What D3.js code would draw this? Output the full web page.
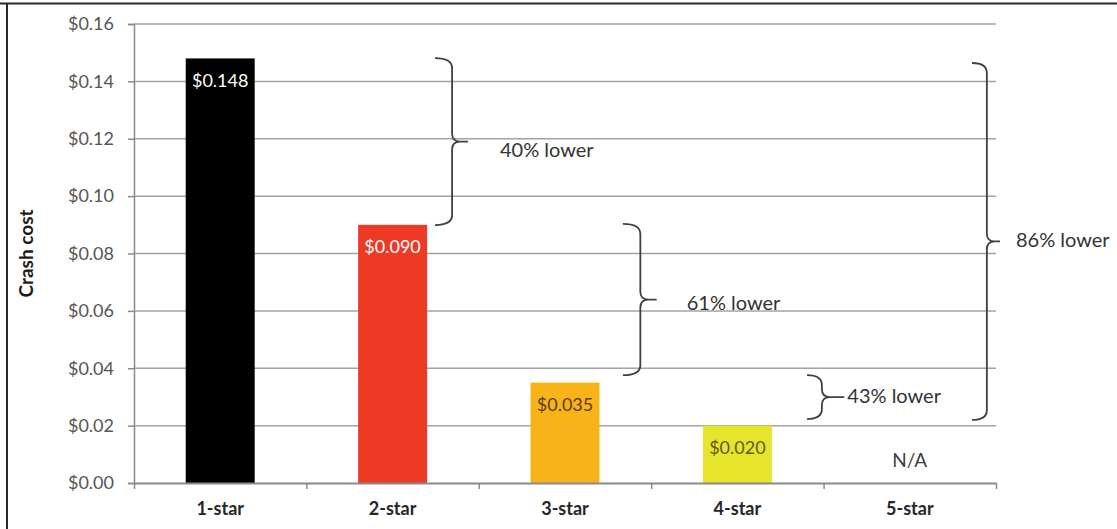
<!DOCTYPE html>
<html>
<head>
<meta charset="utf-8">
<script src="https://cdn.jsdelivr.net/npm/d3@7"></script>
<style>
  html, body { margin: 0; padding: 0; background: #fff; }
  svg { display: block; }
  text { font-family: Lato, "Open Sans", sans-serif; }
</style>
</head>
<body>
<svg id="chart" width="1117" height="529"></svg>
<script>
// ---- data ----
const categories = ["1-star", "2-star", "3-star", "4-star", "5-star"];
const values = [0.148, 0.090, 0.035, 0.020, null];
const valueLabels = ["$0.148", "$0.090", "$0.035", "$0.020", "N/A"];
const barColors = ["#000000", "#ee3a24", "#f8b319", "#e7e42c", "none"];
const labelColors = ["#ffffff", "#ffffff", "#5a3d12", "#5f5a1c", "#404040"];
const yTicks = [0, 0.02, 0.04, 0.06, 0.08, 0.10, 0.12, 0.14, 0.16];
const yTitle = "Crash cost";
// annotation braces: text, top value, bottom value, left position (category units), vertical offset, tip position
const braceTexts = ["40% lower", "61% lower", "43% lower", "86% lower"];
const braceTop = [0.1481, 0.0903, 0.0376, 0.1464];
const braceBottom = [0.0899, 0.0376, 0.0223, 0.0220];
const braceLeft = [1.746, 2.836, 3.904, 4.861];
const braceMid = [1.845, 2.937, 3.99, 4.947];
const braceTip = [1.937, 3.032, 4.12, 5.023];

// ---- layout ----
const svg = d3.select("#chart");
const W = 1117, H = 529;
const plot = { left: 134, right: 996, top: 24, bottom: 483 };

const x = d3.scaleBand().domain(categories).range([plot.left, plot.right]).paddingInner(0.6).paddingOuter(0.3);
const xc = d3.scaleLinear().domain([0, categories.length]).range([plot.left, plot.right]);
const y = d3.scaleLinear().domain([0, 0.16]).range([plot.bottom, plot.top]);

// frame lines (top and left)
svg.append("line").attr("x1", 0).attr("x2", W).attr("y1", 3.5).attr("y2", 3.5)
  .attr("stroke", "#2b2b2b").attr("stroke-width", 2);
svg.append("line").attr("x1", 7).attr("x2", 7).attr("y1", 3).attr("y2", H)
  .attr("stroke", "#2b2b2b").attr("stroke-width", 2);

// gridlines
svg.append("g").selectAll("line").data(yTicks.filter(d => d > 0)).join("line")
  .attr("x1", plot.left).attr("x2", plot.right)
  .attr("y1", d => y(d)).attr("y2", d => y(d))
  .attr("stroke", "#a3a3a3").attr("stroke-width", 1.5);

// y axis
const fmt = d => "$" + d.toFixed(2);
const yAxis = svg.append("g").attr("transform", `translate(${plot.left},0)`)
  .call(d3.axisLeft(y).tickValues(yTicks).tickFormat(fmt).tickSize(6).tickPadding(14));
yAxis.select(".domain").attr("stroke", "#8a8a8a").attr("stroke-width", 1.5);
yAxis.selectAll(".tick line").attr("stroke", "#8a8a8a").attr("stroke-width", 1.5);
yAxis.selectAll(".tick text").attr("fill", "#555555").attr("font-size", 18)
  .attr("font-family", "Lato, sans-serif");

// bars
svg.append("g").selectAll("rect").data(categories.map((c, i) => ({ c, v: values[i], i })).filter(d => d.v != null))
  .join("rect")
  .attr("x", d => x(d.c)).attr("width", x.bandwidth())
  .attr("y", d => y(d.v)).attr("height", d => y(0) - y(d.v))
  .attr("fill", d => barColors[d.i]);

// x axis
const xAxis = svg.append("g").attr("transform", `translate(0,${plot.bottom})`)
  .call(d3.axisBottom(xc).tickValues(d3.range(categories.length + 1)).tickFormat("").tickSize(6).tickSizeOuter(0));
xAxis.select(".domain").attr("stroke", "#8a8a8a").attr("stroke-width", 2);
xAxis.selectAll(".tick line").attr("stroke", "#8a8a8a").attr("stroke-width", 1.5);

svg.append("g").selectAll("text").data(categories).join("text")
  .attr("x", d => x(d) + x.bandwidth() / 2).attr("y", 510)
  .attr("text-anchor", "middle").attr("dominant-baseline", "middle")
  .attr("font-size", 18).attr("font-weight", "bold").attr("fill", "#262626")
  .text(d => d);

// value labels
svg.append("g").selectAll("text").data(categories.map((c, i) => ({ c, v: values[i], i })))
  .join("text")
  .attr("x", d => x(d.c) + x.bandwidth() / 2)
  .attr("y", d => d.v != null ? y(d.v) + 24 : y(0) - 21)
  .attr("text-anchor", "middle").attr("dominant-baseline", "middle")
  .attr("font-size", d => d.v != null ? 18 : 19).attr("fill", d => labelColors[d.i])
  .text(d => valueLabels[d.i]);

// y title
svg.append("text")
  .attr("transform", `translate(28,${(plot.top + plot.bottom) / 2}) rotate(-90)`)
  .attr("text-anchor", "middle").attr("dominant-baseline", "middle")
  .attr("font-size", 19).attr("font-weight", "bold").attr("fill", "#1a1a1a")
  .text(yTitle);

// braces
function bracePath(x0, x1, x2, y0, y1) {
  const ym = (y0 + y1) / 2;
  const r = Math.min(10, (y1 - y0) / 4);
  const t = Math.min(8, (y1 - y0) / 4);
  const xt = Math.min(x1 + 8, x2);
  return `M${x0},${y0} Q${x1},${y0} ${x1},${y0 + r} L${x1},${ym - t} Q${x1},${ym} ${xt},${ym} L${x2},${ym}` +
         ` M${x2},${ym} L${xt},${ym} Q${x1},${ym} ${x1},${ym + t} L${x1},${y1 - r} Q${x1},${y1} ${x0},${y1}`;
}
const braces = braceTexts.map((t, i) => ({ t, i }));
const bg = svg.append("g");
bg.selectAll("path").data(braces).join("path")
  .attr("d", d => bracePath(xc(braceLeft[d.i]), xc(braceMid[d.i]), xc(braceTip[d.i]), y(braceTop[d.i]), y(braceBottom[d.i])))
  .attr("fill", "none").attr("stroke", "#404040").attr("stroke-width", 1.8);
bg.selectAll("text").data(braces).join("text")
  .attr("x", d => xc(braceTip[d.i]) + [32, 30, 3, 16][d.i])
  .attr("y", d => (y(braceTop[d.i]) + y(braceBottom[d.i])) / 2 + [10, 5, 1, 0][d.i])
  .attr("dominant-baseline", "middle")
  .attr("font-size", 20).attr("fill", "#333")
  .text(d => d.t);
</script>
</body>
</html>
